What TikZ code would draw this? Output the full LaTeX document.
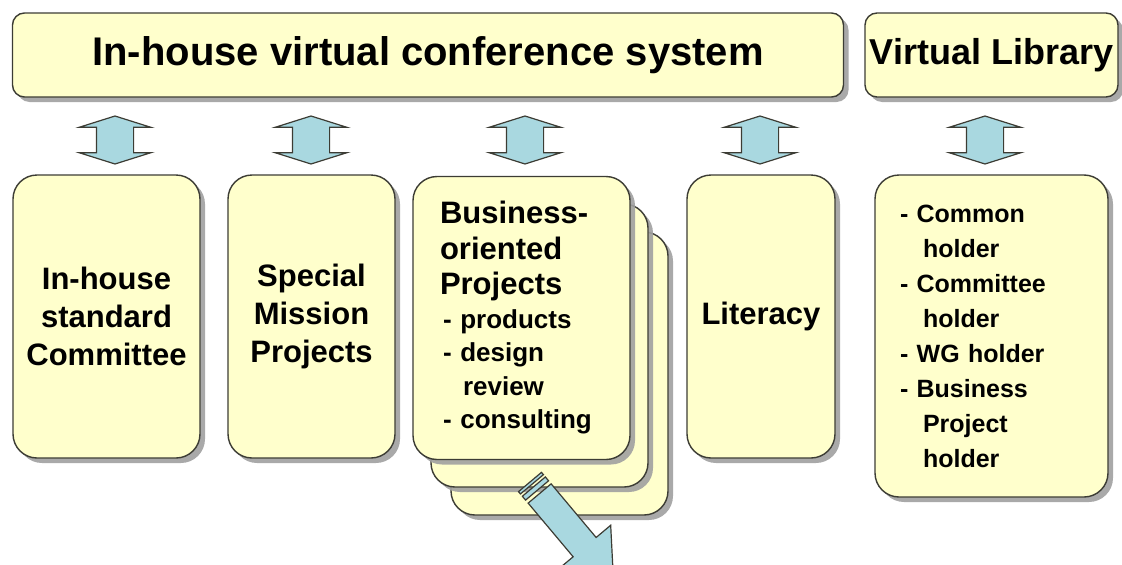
\documentclass[tikz,border=0pt]{standalone}
\usepackage{fontspec}
\setmainfont{Liberation Sans}
\usetikzlibrary{positioning,shapes.arrows,shadows}
\definecolor{panelfill}{HTML}{FFFFCC}
\definecolor{panelink}{HTML}{3C3C34}
\definecolor{linkblue}{HTML}{A9D8E0}
\definecolor{shadegray}{HTML}{A0A0A0}

\begin{document}
\begin{tikzpicture}[x=1pt,y=-1pt,
    panel/.style={draw=panelink,line width=1.4pt,fill=panelfill,rounded corners=24pt,inner sep=0pt,
      drop shadow={shadow xshift=5pt,shadow yshift=-5pt,fill=shadegray,opacity=0.9},
      font=\fontsize{31}{38}\selectfont\bfseries},
    banner/.style={panel,rounded corners=12pt,minimum height=84pt},
    tall/.style={panel,minimum height=283pt},
    link/.style={double arrow,draw=panelink,line width=1.2pt,fill=linkblue,rotate=90,
      inner xsep=0pt,inner ysep=18pt,minimum height=48pt,
      double arrow head extend=17pt,double arrow tip angle=145}]
  \useasboundingbox (0,0) rectangle (1122,565);

  % top bar
  \node[banner,minimum width=831pt,font=\fontsize{40}{46}\selectfont\bfseries] (conf) at (428,55) {In-house virtual conference system};
  \node[banner,minimum width=253pt,font=\fontsize{36}{42}\selectfont\bfseries] (vlib) at (991.5,55) {Virtual Library};

  % groups using the system
  \node[tall,minimum width=187pt,align=center] (committee) at (106.5,316.5) {In-house\\standard\\Committee};
  \node[tall,minimum width=167pt,align=center] (mission) at (311.5,316.5) {Special\\Mission\\Projects};
  \node[tall,minimum width=217pt] (biz3) at (559.5,373.5) {};
  \node[tall,minimum width=217pt] (biz2) at (539.5,345.5) {};
  \node[tall,minimum width=217pt,text width=163pt,align=left,font=\fontsize{26}{33.5}\selectfont\bfseries] (biz) at (521.5,318)
    {{\fontsize{31}{33.5}\selectfont Business-}\\[2pt]{\fontsize{31}{33.5}\selectfont oriented}\\[2pt]{\fontsize{31}{33.5}\selectfont Projects}\\
     \hspace*{3pt}-~products\\\hspace*{3pt}-~design\\\hspace*{23pt}review\\\hspace*{3pt}-~consulting};
  \node[tall,minimum width=148pt] (literacy) at (761,316.5) {Literacy};
  \node[panel,minimum width=233pt,minimum height=322pt,text width=183pt,align=left,font=\fontsize{25}{35}\selectfont\bfseries] (holders) at (991.5,336)
    {-~Common\\\hspace*{23pt}holder\\-~Committee\\\hspace*{23pt}holder\\-~WG~holder\\-~Business\\\hspace*{23pt}Project\\\hspace*{23pt}holder};

  % two-way links to the top bar
  \node[link] (l1) at (115,140) {};
  \node[link] (l2) at (311,140) {};
  \node[link] (l3) at (525,140) {};
  \node[link] (l4) at (760,140) {};
  \node[link] (l5) at (985,140) {};

  % striped arrow out of the project stack
  \begin{scope}
    \clip (0,0) rectangle (1122,565);
    \begin{scope}[shift={(530,482)},rotate=-50,draw=panelink,line width=1.2pt,fill=linkblue]
      \filldraw (0,-15) rectangle (3,15);
      \filldraw (6,-15) rectangle (11,15);
      \filldraw (15,-15) -- (85,-15) -- (85,-34) -- (130,0) -- (85,34) -- (85,15) -- (15,15) -- cycle;
    \end{scope}
  \end{scope}
\end{tikzpicture}
\end{document}
